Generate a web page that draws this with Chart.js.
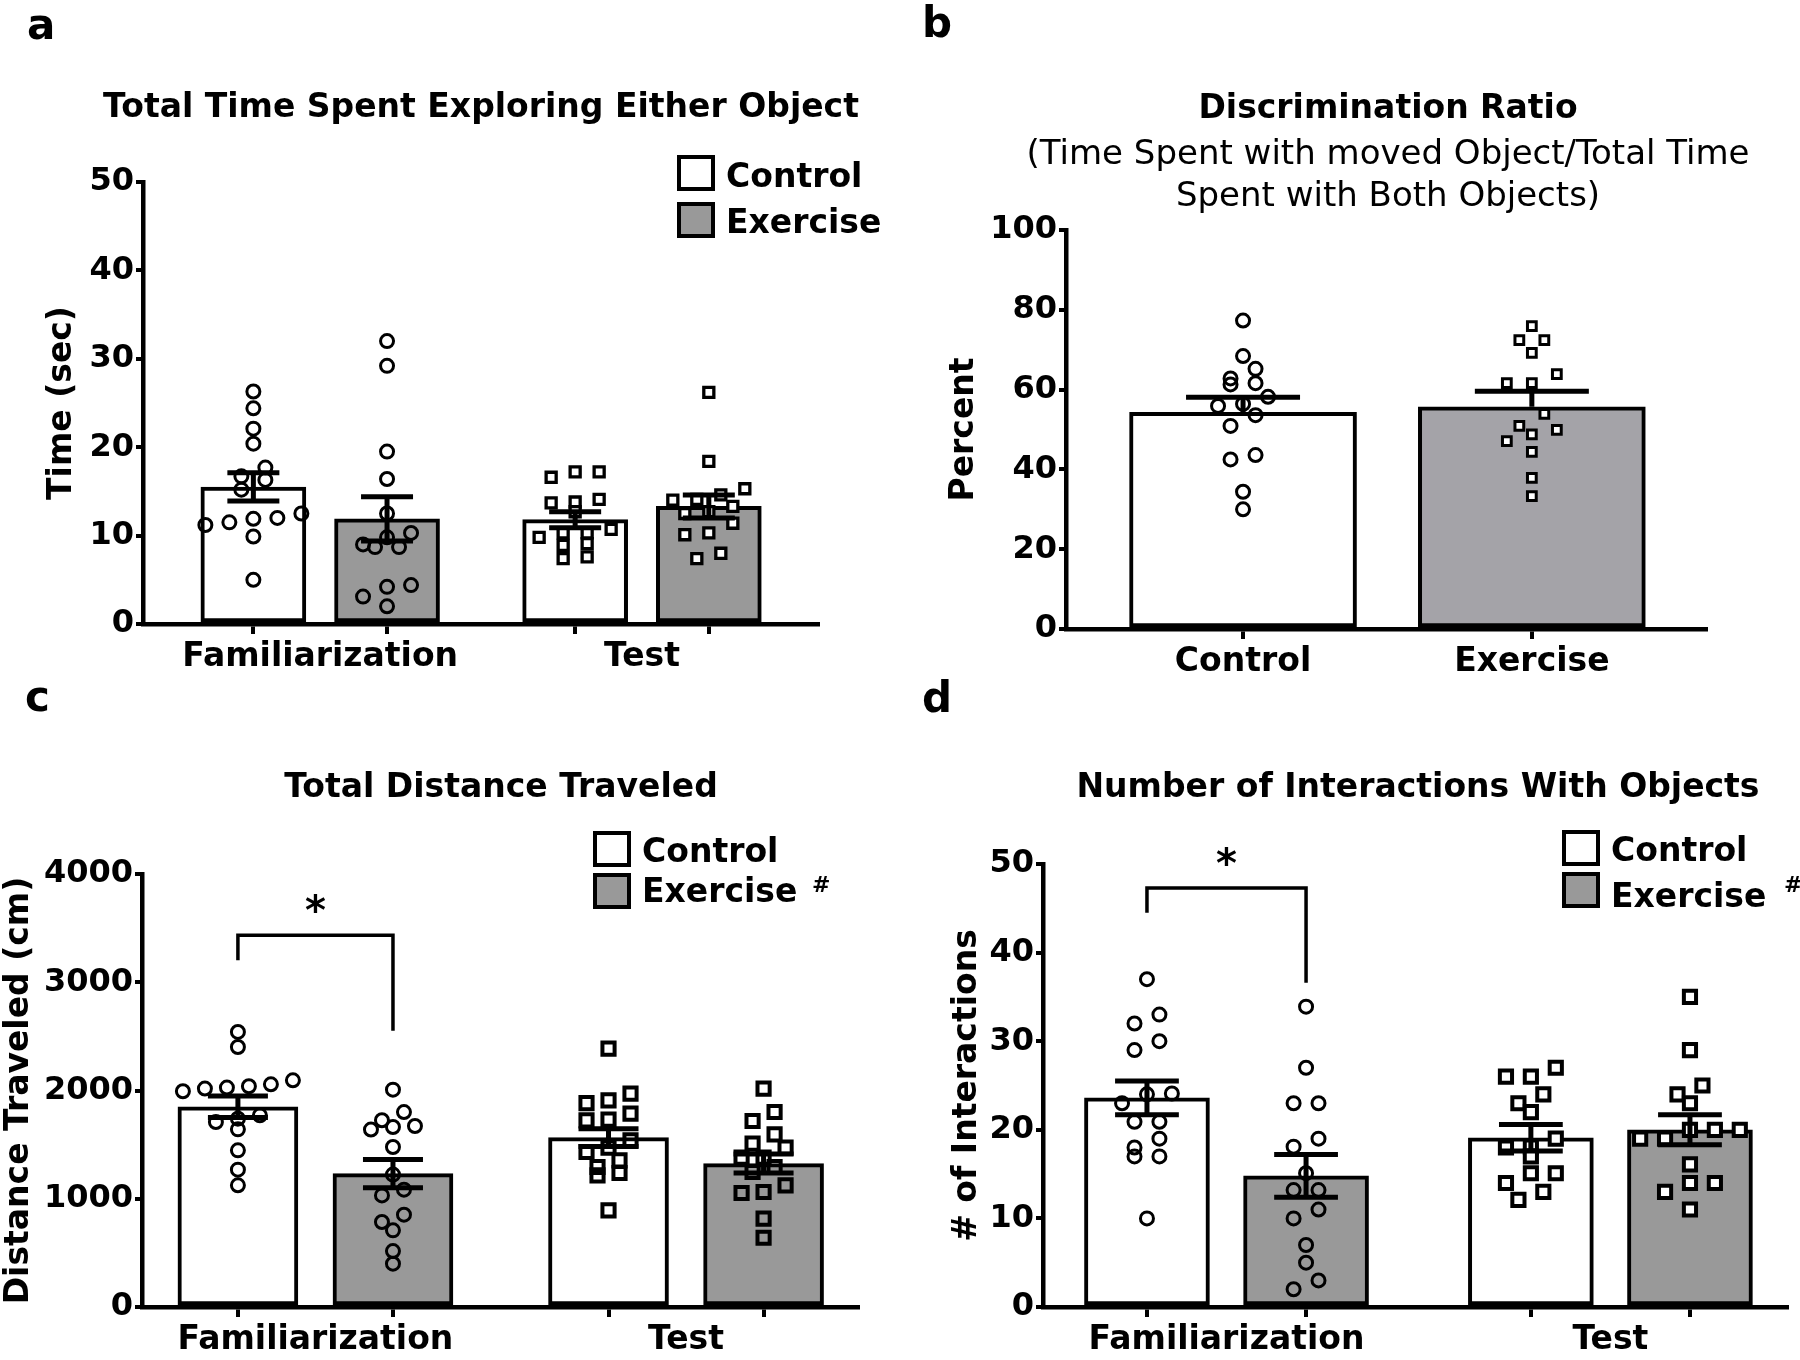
<!DOCTYPE html>
<html><head><meta charset="utf-8">
<script src="https://cdn.jsdelivr.net/npm/chart.js@4.4.1/dist/chart.umd.min.js"></script>
<style>
html,body{margin:0;padding:0;background:#fff;}
body{position:relative;width:1800px;height:1360px;overflow:hidden;font-family:"DejaVu Sans",sans-serif;color:#000;}
canvas{position:absolute;}
.txt{position:absolute;white-space:nowrap;line-height:1;font-weight:bold;}
.box{position:absolute;box-sizing:border-box;border:4px solid #000;}
</style></head><body>
<script>
// ---------------- DATA ----------------
const groupLabels = ['Familiarization', 'Test'];
const seriesNames = ['Control', 'Exercise'];

// (a) Total time spent exploring either object (sec)
const timeFamControl   = [26.3, 24.4, 22.1, 20.4, 17.7, 16.7, 16.3, 15.2, 12.5, 12.0, 11.5, 11.2, 11.9, 9.9, 5.0];
const timeFamExercise  = [32.0, 29.2, 19.5, 16.4, 12.5, 10.3, 9.8, 8.7, 8.7, 9.0, 4.4, 4.2, 3.1, 2.0];
const timeTestControl  = [17.2, 17.2, 16.6, 14.1, 13.8, 13.7, 12.7, 10.7, 10.3, 10.3, 9.8, 9.1, 8.9, 7.6, 7.4];
const timeTestExercise = [26.2, 18.4, 15.3, 14.6, 14.1, 14.0, 13.3, 12.7, 12.5, 11.4, 10.3, 10.1, 8.0, 7.4];
const timeControlMean  = [15.5, 11.8];
const timeControlSem   = [1.6, 0.9];
const timeExerciseMean = [11.9, 13.3];
const timeExerciseSem  = [2.5, 1.3];
const timeTicks = [0, 10, 20, 30, 40, 50];

// (b) Discrimination ratio (%)
const ratioCategories = ['Control', 'Exercise'];
const ratioControl  = [77.3, 68.4, 65.2, 62.8, 61.6, 61.3, 58.2, 56.4, 55.9, 53.6, 50.9, 43.6, 42.5, 34.4, 30.0];
const ratioExercise = [75.9, 72.4, 72.4, 69.2, 63.9, 61.6, 61.6, 53.9, 50.9, 49.9, 48.8, 47.1, 44.4, 37.9, 33.3];
const ratioMean = [54.3, 55.7];
const ratioSem  = [3.8, 3.9];
const ratioTicks = [0, 20, 40, 60, 80, 100];

// (c) Total distance traveled (cm)
const distFamControl   = [2541, 2402, 2094, 2057, 2039, 2027, 2018, 1993, 1771, 1740, 1709, 1641, 1447, 1269, 1124];
const distFamExercise  = [2008, 1801, 1725, 1672, 1663, 1639, 1478, 1223, 1084, 1031, 853, 785, 708, 517, 400];
const distTestControl  = [2387, 1971, 1909, 1884, 1786, 1731, 1724, 1540, 1472, 1432, 1355, 1293, 1238, 1216, 893];
const distTestExercise = [2017, 1801, 1718, 1595, 1509, 1472, 1380, 1380, 1293, 1247, 1124, 1062, 1053, 816, 640];
const distControlMean  = [1850, 1565];
const distControlSem   = [100, 82];
const distExerciseMean = [1232, 1325];
const distExerciseSem  = [130, 88];
const distTicks = [0, 1000, 2000, 3000, 4000];
const distBracketY = [3203, 3435, 3435, 2551];
const distStarY = 3705;

// (d) Number of interactions with objects
const interFamControl   = [37, 33, 32, 30, 29, 24.1, 24, 23, 20.9, 20.9, 19, 18, 17, 17, 10];
const interFamExercise  = [33.9, 27, 23, 23, 19, 18.1, 15.1, 13.2, 13.2, 11, 10, 7, 5, 3, 2];
const interTestControl  = [27, 26, 26, 24, 23, 22, 19, 18.1, 18, 17, 15.1, 15.1, 14, 13, 12.1];
const interTestExercise = [35, 29, 25, 24, 23, 20, 20, 20, 19, 19, 16.1, 14, 14, 13, 11];
const interControlMean  = [23.6, 19.1];
const interControlSem   = [1.9, 1.5];
const interExerciseMean = [14.8, 20.0];
const interExerciseSem  = [2.4, 1.7];
const interTicks = [0, 10, 20, 30, 40, 50];
const interBracketY = [44.5, 47.3, 47.3, 36.6];
const interStarY = 50.6;

// ---------------- HELPERS ----------------
const FAM = '"DejaVu Sans", sans-serif';
Chart.defaults.font.family = FAM;
Chart.defaults.color = '#000';

function addText(text, x, baseline, size, weight, center) {
  const d = document.createElement('div');
  d.className = 'txt';
  d.textContent = text;
  d.style.fontSize = size + 'px';
  d.style.fontWeight = weight;
  d.style.top = (baseline - 0.846 * size) + 'px';
  d.style.left = x + 'px';
  if (center) d.style.transform = 'translateX(-50%)';
  document.body.appendChild(d);
  return d;
}
function addBox(x, y, w, h, fill) {
  const d = document.createElement('div');
  d.className = 'box';
  Object.assign(d.style, {left: x + 'px', top: y + 'px', width: w + 'px', height: h + 'px', background: fill});
  document.body.appendChild(d);
}

// GraphPad-like row layout: points close in value share a row, spread symmetrically
function rowLayout(values, center, stepU, bandU) {
  const idx = values.map((v, i) => i).sort((a, b) => values[b] - values[a]);
  const rows = [];
  let cur = null;
  idx.forEach(i => {
    const v = values[i];
    if (cur && cur.top - v < bandU) cur.items.push(i);
    else { cur = {top: v, items: [i]}; rows.push(cur); }
  });
  const out = [];
  rows.forEach(r => {
    const items = r.items.slice().sort((a, b) => values[a] - values[b]);
    const n = items.length;
    items.forEach((i, k) => out.push({x: center + (k - (n - 1) / 2) * stepU, y: values[i]}));
  });
  return out;
}

function makeChart(P) {
  const cv = document.createElement('canvas');
  cv.width = P.box.w; cv.height = P.box.h;
  Object.assign(cv.style, {left: P.box.x + 'px', top: P.box.y + 'px', width: P.box.w + 'px', height: P.box.h + 'px'});
  document.body.appendChild(cv);
  const A = P.area;
  const pxX = (A.right - A.left) / (P.xMax - P.xMin);
  const pxY = (A.bottom - A.top) / P.yMax;
  const stepU = P.stepPx / pxX, bandU = P.bandPx / pxY, capU = P.capPx / pxX;
  const labelH = P.box.y + P.box.h - A.bottom - P.tickH;

  const ds = [];
  P.series.forEach(s => {
    ds.push({type: 'bar', label: s.name, xAxisID: 'x', yAxisID: 'y',
      data: s.centers.map((c, i) => ({x: c, y: s.mean[i]})),
      backgroundColor: s.fill, borderColor: '#000', borderWidth: 4, borderSkipped: false,
      barThickness: P.barPx, grouped: false, categoryPercentage: 1, barPercentage: 1, order: 3});
    s.points.forEach((vals, i) => {
      const rect = s.shapes[i] === 'rect';
      const r = rect ? P.squareR : 6.5;
      ds.push({type: 'scatter', xAxisID: 'x', yAxisID: 'y',
        data: rowLayout(vals, s.centers[i], stepU, bandU),
        pointStyle: s.shapes[i], pointRadius: r, pointHoverRadius: r,
        pointBorderWidth: rect ? P.squareBW : 3, pointBorderColor: '#000',
        pointBackgroundColor: s.pointFill[i], showLine: false, order: 2, clip: false});
    });
    const eb = [];
    s.centers.forEach((c, i) => {
      const m = s.mean[i], e = s.sem[i];
      const lo = P.upOnly ? m : m - e, hi = m + e;
      eb.push({x: c, y: lo}, {x: c, y: hi}, {x: c, y: null},
              {x: c - capU, y: hi}, {x: c + capU, y: hi}, {x: c, y: null});
      if (!P.upOnly) eb.push({x: c - capU, y: lo}, {x: c + capU, y: lo}, {x: c, y: null});
    });
    ds.push({type: 'line', xAxisID: 'x', yAxisID: 'y', data: eb, borderColor: '#000', borderWidth: 5,
      pointRadius: 0, spanGaps: false, fill: false, order: 1, clip: false, borderCapStyle: 'butt', tension: 0});
  });
  if (P.bracket) {
    const bx = [P.bracket.x0, P.bracket.x0, P.bracket.x1, P.bracket.x1];
    ds.push({type: 'line', xAxisID: 'x', yAxisID: 'y', data: P.bracket.y.map((v, i) => ({x: bx[i], y: v})),
      borderColor: '#000', borderWidth: 3.5, pointRadius: 0, fill: false, order: 1, clip: false,
      borderJoinStyle: 'miter', borderCapStyle: 'butt', tension: 0});
  }

  const starPlugin = {
    id: 'star',
    afterDatasetsDraw(chart) {
      if (!P.star) return;
      const ctx = chart.ctx;
      const x = chart.scales.x.getPixelForValue(P.star.x);
      const y = chart.scales.y.getPixelForValue(P.star.y);
      ctx.save();
      ctx.font = 'bold 40px ' + FAM;
      ctx.textAlign = 'center';
      ctx.textBaseline = 'middle';
      ctx.fillStyle = '#000';
      ctx.fillText('*', x, y + 8);
      ctx.restore();
    }
  };

  new Chart(cv, {
    data: {datasets: ds},
    plugins: [starPlugin],
    options: {
      responsive: false, animation: false, devicePixelRatio: 1,
      layout: {padding: {
        left: A.left - P.box.x - P.yW,
        top: A.top - P.box.y,
        right: P.box.x + P.box.w - A.right,
        bottom: 0}},
      plugins: {legend: {display: false}, tooltip: {enabled: false}},
      scales: {
        x: {type: 'linear', position: 'bottom', min: P.xMin, max: P.xMax, weight: 0, offset: false,
          afterBuildTicks: sc => { sc.ticks = P.tickPos.map(v => ({value: v})); },
          afterFit: sc => { sc.height = P.tickH; },
          ticks: {display: false},
          grid: {display: true, offset: false, drawOnChartArea: false, drawTicks: true, tickLength: 10, lineWidth: 4, color: '#000'},
          border: {display: true, width: 4.5, color: '#000'}},
        xl: {type: 'linear', position: 'bottom', min: P.xMin, max: P.xMax, weight: 1, offset: false,
          afterBuildTicks: sc => { sc.ticks = P.labelPos.map(v => ({value: v})); },
          afterFit: sc => { sc.height = labelH; },
          ticks: {autoSkip: false, maxRotation: 0, minRotation: 0, padding: 2, color: '#000',
            font: {family: FAM, size: 33, weight: 'bold'},
            callback: (v, i) => P.labels[i]},
          grid: {display: false, drawTicks: false, offset: false},
          border: {display: false}},
        y: {type: 'linear', position: 'left', min: 0, max: P.yMax,
          afterBuildTicks: sc => { sc.ticks = P.yTicks.map(v => ({value: v})); },
          afterFit: sc => { sc.width = P.yW; },
          ticks: {padding: 2, color: '#000', font: {family: FAM, size: 32, weight: 'bold'},
            callback: v => String(v)},
          grid: {display: true, drawOnChartArea: false, drawTicks: true, tickLength: 7, lineWidth: 4, color: '#000'},
          border: {display: true, width: 4.5, color: '#000'},
          title: {display: true, text: P.yTitle, color: '#000', padding: 0,
            font: {family: FAM, size: 33, weight: 'bold'}}}
      }
    }
  });
}

const GREY = '#999999';
const NONE = 'rgba(0,0,0,0)';

// ---------------- PANEL A ----------------
const dA = 0.2077;
makeChart({
  box: {x: 0, y: 0, w: 900, h: 690},
  area: {left: 143, top: 182, right: 818, bottom: 624},
  xMin: -0.5507, xMax: 1.547, yMax: 50, yTicks: timeTicks, yTitle: 'Time (sec)', yW: 100, tickH: 12,
  barPx: 105, capPx: 26, stepPx: 24, bandPx: 12, squareR: 7.1, squareBW: 3.3,
  tickPos: [0 - dA, 0 + dA, 1 - dA, 1 + dA], labelPos: [0, 1], labels: groupLabels,
  series: [
    {name: seriesNames[0], centers: [0 - dA, 1 - dA], mean: timeControlMean, sem: timeControlSem, fill: '#ffffff',
     points: [timeFamControl, timeTestControl], shapes: ['circle', 'rect'], pointFill: [NONE, '#ffffff']},
    {name: seriesNames[1], centers: [0 + dA, 1 + dA], mean: timeExerciseMean, sem: timeExerciseSem, fill: GREY,
     points: [timeFamExercise, timeTestExercise], shapes: ['circle', 'rect'], pointFill: [NONE, '#ffffff']}
  ]
});

// ---------------- PANEL B ----------------
makeChart({
  box: {x: 900, y: 0, w: 900, h: 690},
  area: {left: 1066, top: 230, right: 1706, bottom: 629},
  xMin: -0.613, xMax: 1.603, yMax: 100, yTicks: ratioTicks, yTitle: 'Percent', yW: 121, tickH: 12,
  barPx: 227, capPx: 57, stepPx: 25, bandPx: 12, upOnly: true, squareR: 6.2, squareBW: 3,
  tickPos: [0, 1], labelPos: [0, 1], labels: ratioCategories,
  series: [
    {name: ratioCategories[0], centers: [0], mean: [ratioMean[0]], sem: [ratioSem[0]], fill: '#ffffff',
     points: [ratioControl], shapes: ['circle'], pointFill: [NONE]},
    {name: ratioCategories[1], centers: [1], mean: [ratioMean[1]], sem: [ratioSem[1]], fill: '#a4a3a8',
     points: [ratioExercise], shapes: ['rect'], pointFill: ['#ffffff']}
  ]
});

// ---------------- PANEL C ----------------
const dC = 0.2092;
makeChart({
  box: {x: 0, y: 690, w: 900, h: 670},
  area: {left: 142, top: 874, right: 858, bottom: 1307},
  xMin: -0.468, xMax: 1.464, yMax: 4000, yTicks: distTicks, yTitle: 'Distance Traveled (cm)', yW: 142, tickH: 12,
  barPx: 120, capPx: 30, stepPx: 22, bandPx: 12, squareR: 8.6, squareBW: 4,
  tickPos: [0 - dC, 0 + dC, 1 - dC, 1 + dC], labelPos: [0, 1], labels: groupLabels,
  bracket: {x0: 0 - dC, x1: 0 + dC, y: distBracketY},
  star: {x: 0, y: distStarY},
  series: [
    {name: seriesNames[0], centers: [0 - dC, 1 - dC], mean: distControlMean, sem: distControlSem, fill: '#ffffff',
     points: [distFamControl, distTestControl], shapes: ['circle', 'rect'], pointFill: [NONE, NONE]},
    {name: seriesNames[1], centers: [0 + dC, 1 + dC], mean: distExerciseMean, sem: distExerciseSem, fill: GREY,
     points: [distFamExercise, distTestExercise], shapes: ['circle', 'rect'], pointFill: [NONE, NONE]}
  ]
});

// ---------------- PANEL D ----------------
const dD = 0.2072;
makeChart({
  box: {x: 900, y: 690, w: 900, h: 670},
  area: {left: 1043, top: 864, right: 1790, bottom: 1307},
  xMin: -0.478, xMax: 1.461, yMax: 50, yTicks: interTicks, yTitle: '# of Interactions', yW: 95, tickH: 12,
  barPx: 125, capPx: 32, stepPx: 25, bandPx: 12, squareR: 8.6, squareBW: 4,
  tickPos: [0 - dD, 0 + dD, 1 - dD, 1 + dD], labelPos: [0, 1], labels: groupLabels,
  bracket: {x0: 0 - dD, x1: 0 + dD, y: interBracketY},
  star: {x: 0, y: interStarY},
  series: [
    {name: seriesNames[0], centers: [0 - dD, 1 - dD], mean: interControlMean, sem: interControlSem, fill: '#ffffff',
     points: [interFamControl, interTestControl], shapes: ['circle', 'rect'], pointFill: [NONE, '#ffffff']},
    {name: seriesNames[1], centers: [0 + dD, 1 + dD], mean: interExerciseMean, sem: interExerciseSem, fill: GREY,
     points: [interFamExercise, interTestExercise], shapes: ['circle', 'rect'], pointFill: [NONE, '#ffffff']}
  ]
});

// ---------------- TEXT: letters, titles, legends ----------------
addText('a', 27, 39.6, 42, 'bold', false);
addText('b', 922, 37.4, 42, 'bold', false);
addText('c', 25, 712, 42, 'bold', false);
addText('d', 922, 713, 42, 'bold', false);

addText('Total Time Spent Exploring Either Object', 481, 116.6, 33, 'bold', true);
addText('Discrimination Ratio', 1388, 118, 33, 'bold', true);
addText('(Time Spent with moved Object/Total Time', 1388, 163.7, 34, 'normal', true);
addText('Spent with Both Objects)', 1388, 206, 34, 'normal', true);
addText('Total Distance Traveled', 501, 796.8, 33, 'bold', true);
addText('Number of Interactions With Objects', 1418, 796.8, 33, 'bold', true);

// legends
addBox(677, 155, 38, 36, '#ffffff'); addBox(677, 202, 38, 36, GREY);
addText(seriesNames[0], 726, 187, 33, 'bold', false);
addText(seriesNames[1], 726, 233, 33, 'bold', false);

addBox(593, 831, 38, 36, '#ffffff'); addBox(593, 873, 38, 36, GREY);
addText(seriesNames[0], 642, 862, 33, 'bold', false);
addText(seriesNames[1], 642, 902, 33, 'bold', false);
addText('#', 812, 893, 22, 'bold', false);

addBox(1562, 830, 38, 36, '#ffffff'); addBox(1562, 872, 38, 36, GREY);
addText(seriesNames[0], 1611, 861, 33, 'bold', false);
addText(seriesNames[1], 1611, 907, 33, 'bold', false);
addText('#', 1784, 893, 22, 'bold', false);
</script>
</body></html>
